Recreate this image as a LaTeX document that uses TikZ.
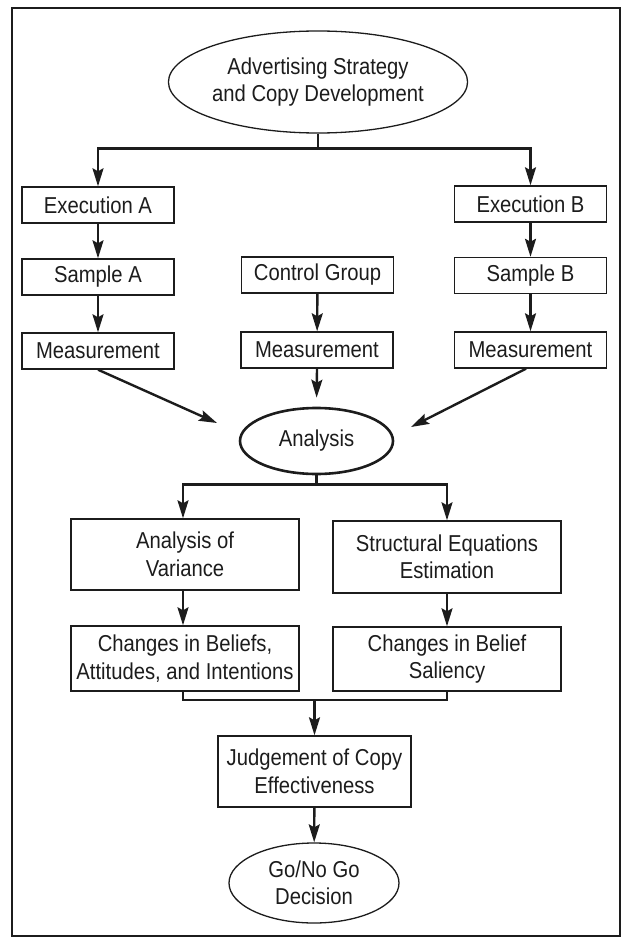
\documentclass[tikz,border=0pt]{standalone}
\usepackage{fontspec}
\setmainfont{Liberation Sans}[FakeStretch=0.88]
\usetikzlibrary{arrows.meta,shapes.geometric,calc}
\definecolor{ink}{HTML}{1c1c1c}
\begin{document}
\begin{tikzpicture}[x=1pt,y=-1pt,
  every node/.style={font=\fontsize{23}{27.5}\selectfont, text=ink, align=center, inner sep=0pt},
  boxnode/.style={draw=ink, line width=1.4pt, rectangle, minimum height=36pt, minimum width=152pt},
  bigbox/.style={draw=ink, line width=1.4pt, rectangle, minimum width=228pt},
  ovalnode/.style={draw=ink, line width=1.3pt, ellipse},
  conn/.style={draw=ink, line width=2.4pt},
  arr/.style={conn, -{Stealth[length=18pt,width=11pt,inset=3pt]}}
]
\useasboundingbox (0,0) rectangle (624,939);
\draw[ink, line width=2pt] (12,8) rectangle (620,936);

\node[ovalnode, minimum width=242pt, minimum height=102pt] (adv) at (318,82) {Advertising Strategy\\and Copy Development};

\node[boxnode] (exA) at (98,205) {Execution A};
\node[boxnode] (exB) at (530.5,204) {Execution B};
\node[boxnode] (smA) at (98,277) {Sample A};
\node[boxnode] (ctl) at (317.5,275) {Control Group};
\node[boxnode] (smB) at (530.5,275.5) {Sample B};
\node[boxnode] (msA) at (98,351) {Measurement};
\node[boxnode] (msC) at (317,350) {Measurement};
\node[boxnode] (msB) at (530.5,350) {Measurement};

\node[ellipse, draw=ink, line width=2.6pt, minimum width=153pt, minimum height=66pt] (ana) at (316.5,441) {Analysis};

\node[bigbox, minimum height=71pt] (aov) at (185,554.5) {Analysis of\\Variance};
\node[bigbox, minimum height=72pt] (sem) at (447,557) {Structural Equations\\Estimation};
\node[bigbox, minimum height=65pt] (chB) at (185,658.5) {Changes in Beliefs,\\Attitudes, and Intentions};
\node[bigbox, minimum height=64pt] (chS) at (447,659) {Changes in Belief\\Saliency};

\node[draw=ink, line width=1.4pt, rectangle, minimum width=193pt, minimum height=71pt] (jud) at (314.5,771.5) {Judgement of Copy\\Effectiveness};
\node[ovalnode, minimum width=170pt, minimum height=80pt] (go) at (314,883) {Go/No Go\\Decision};

% top split
\draw[conn] (adv.south) -- ++(0,15) coordinate (j1);
\draw[arr] (j1) -| (exA.north);
\draw[arr] (j1) -| (exB.north);

% columns
\draw[arr] (exA) -- (smA);
\draw[arr] (smA) -- (msA);
\draw[arr] (exB) -- (smB);
\draw[arr] (smB) -- (msB);
\draw[arr] (ctl) -- (msC);

% into analysis
\coordinate (tipL) at (217,423);
\coordinate (tipR) at (411,427);
\draw[arr] (msA.south) -- (tipL);
\draw[arr] (msB.south -| 526,0) -- (tipR);
\draw[arr, shorten >=9pt] (msC.south) -- (ana.north);

% second split
\draw[conn] (ana.south) -- ++(0,9) coordinate (j2);
\draw[arr] (j2) -| (183,0 |- aov.north);
\draw[arr] (j2) -| (sem.north);

\draw[arr] (aov.south -| 183,0) -- (chB.north -| 183,0);
\draw[arr] (sem) -- (chS);

% merge
\draw[conn] (chB.south -| 183,0) -- ++(0,8) coordinate (m1) -| (chS.south);
\draw[arr] (m1 -| jud.north) -- (jud.north);
\draw[arr] (jud) -- (go);
\end{tikzpicture}
\end{document}
